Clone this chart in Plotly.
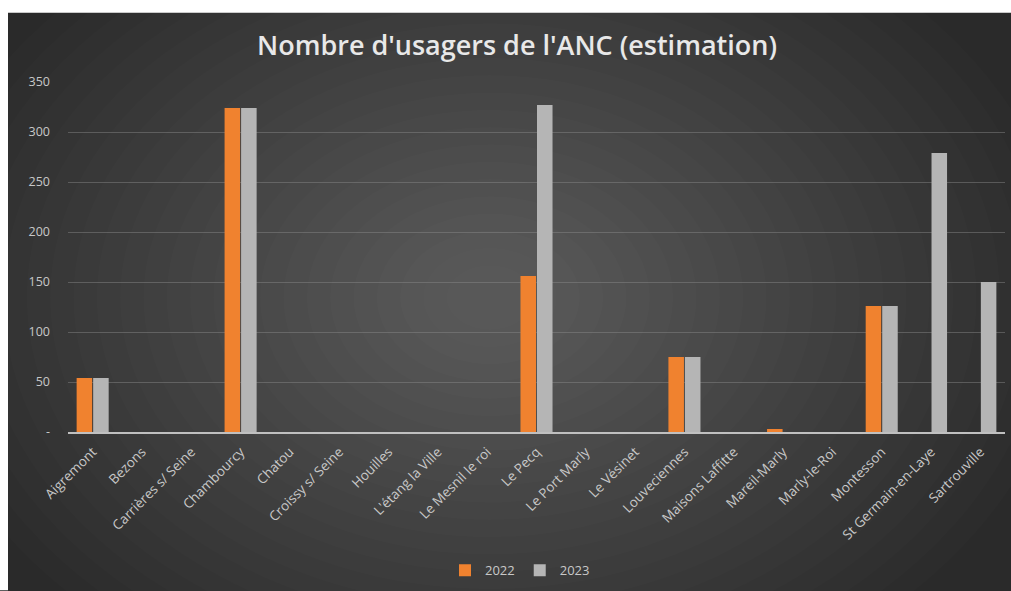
import plotly.graph_objects as go

communes = ["Aigremont", "Bezons", "Carrières s/ Seine", "Chambourcy", "Chatou",
            "Croissy s/ Seine", "Houilles", "L'étang la Ville", "Le Mesnil le roi",
            "Le Pecq", "Le Port Marly", "Le Vésinet", "Louveciennes", "Maisons Laffitte",
            "Mareil-Marly", "Marly-le-Roi", "Montesson", "St Germain-en-Laye", "Sartrouville"]
v2022 = [54, 0, 0, 324, 0, 0, 0, 0, 0, 156, 0, 0, 75, 0, 3, 0, 126, 0, 0]
v2023 = [54, 0, 0, 324, 0, 0, 0, 0, 0, 327, 0, 0, 75, 0, 0, 0, 126, 279, 150]
series_names = ["2022", "2023"]
y_ticks = [0, 50, 100, 150, 200, 250, 300, 350]
y_ticktext = ["-", "50", "100", "150", "200", "250", "300", "350"]

W, H = 1011, 591
ML, MR, MT, MB = 68, 6, 82, 155
PW = W - ML - MR
PH = H - MT - MB

def px_x(p):
    return (p - ML) / PW

def px_y(p):
    return (H - MB - p) / PH

fig = go.Figure()
fig.add_trace(go.Bar(x=communes, y=v2022, name=series_names[0],
                     marker=dict(color="#F0822F", line=dict(width=0))))
fig.add_trace(go.Bar(x=communes, y=v2023, name=series_names[1],
                     marker=dict(color="#B5B5B5", line=dict(width=0))))

shapes = []
cx, cy = 490, 300
n = 24
for i in range(n):
    f = 1 - i / n
    rx = 560 * f + 20
    ry = 420 * f + 15
    shapes.append(dict(type="circle", xref="paper", yref="paper",
                       x0=px_x(cx - rx), x1=px_x(cx + rx),
                       y0=px_y(cy + ry), y1=px_y(cy - ry),
                       fillcolor="rgba(255,255,255,0.0105)", line=dict(width=0),
                       layer="below"))
# white page border (top and left) around the dark chart panel
shapes.append(dict(type="rect", xref="paper", yref="paper",
                   x0=px_x(-5), x1=px_x(W + 5), y0=px_y(12), y1=px_y(-5),
                   fillcolor="white", line=dict(width=0), layer="below"))
shapes.append(dict(type="rect", xref="paper", yref="paper",
                   x0=px_x(-5), x1=px_x(8), y0=px_y(H + 5), y1=px_y(-5),
                   fillcolor="white", line=dict(width=0), layer="below"))

fig.update_layout(
    width=W, height=H,
    margin=dict(l=ML, r=MR, t=MT, b=MB),
    paper_bgcolor="#2a2a2a",
    plot_bgcolor="rgba(0,0,0,0)",
    shapes=shapes,
    barmode="group",
    bargap=0.33,
    bargroupgap=0.06,
    font=dict(family="Open Sans, sans-serif", color="#c8c8c8"),
    title=dict(text="Nombre d'usagers de l'ANC (estimation)",
               x=px_x(517), xref="paper", xanchor="center",
               y=1 - 46 / H, yanchor="middle",
               font=dict(size=27, color="#e8e8e8", family="Open Sans, sans-serif",
                         weight=600)),
    legend=dict(orientation="h", x=px_x(520), xanchor="center",
                y=px_y(576), yanchor="middle",
                font=dict(size=13, color="#c8c8c8"),
                bgcolor="rgba(0,0,0,0)", itemwidth=30, traceorder="normal"),
    xaxis=dict(tickangle=-45, tickfont=dict(size=13.5, color="#c8c8c8"),
               showline=True, linecolor="#c0c0c0", linewidth=1.5,
               showgrid=False, ticks="", ticklabelstandoff=5, automargin=False),
    yaxis=dict(range=[0, 350], tickvals=y_ticks, ticktext=y_ticktext,
               tickfont=dict(size=12.5, color="#c8c8c8"),
               showgrid=True, gridcolor="rgba(140,140,140,0.45)", gridwidth=1,
               zeroline=False, ticks="", ticklabelstandoff=17, automargin=False),
)

fig.write_html("out.html", config={"displayModeBar": False},
               post_script="document.body.style.margin='0';document.body.style.overflow='hidden';")
